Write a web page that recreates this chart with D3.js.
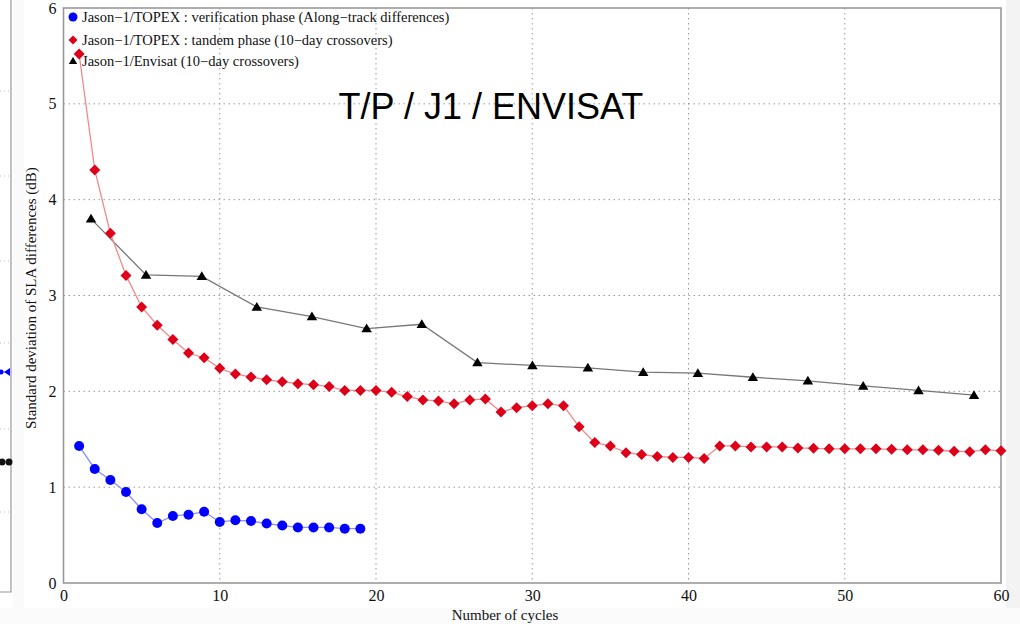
<!DOCTYPE html>
<html>
<head>
<meta charset="utf-8">
<script src="https://cdn.jsdelivr.net/npm/d3@7"></script>
<style>
  body { margin: 0; background: #fff; }
  svg { display: block; }
</style>
</head>
<body>
<div id="chart"></div>
<script>
// data
var verifCycles = [1,2,3,4,5,6,7,8,9,10,11,12,13,14,15,16,17,18,19];
var verifValues = [1.43,1.19,1.075,0.95,0.77,0.626,0.70,0.713,0.744,0.637,0.654,0.647,0.62,0.60,0.58,0.58,0.58,0.567,0.567];

var tandemCycles = [1,2,3,4,5,6,7,8,9,10,11,12,13,14,15,16,17,18,19,20,
  21,22,23,24,25,26,27,28,29,30,31,32,33,34,35,36,37,38,39,40,
  41,42,43,44,45,46,47,48,49,50,51,52,53,54,55,56,57,58,59,60];
var tandemValues = [5.52,4.31,3.65,3.21,2.88,2.69,2.54,2.40,2.35,2.24,2.18,2.15,2.12,2.10,2.08,2.07,2.05,2.01,2.01,2.01,
  1.99,1.945,1.91,1.90,1.87,1.91,1.92,1.785,1.83,1.85,1.87,1.85,1.63,1.465,1.43,1.36,1.34,1.32,1.31,1.31,
  1.30,1.43,1.43,1.42,1.42,1.42,1.41,1.405,1.40,1.40,1.40,1.40,1.395,1.39,1.39,1.385,1.375,1.37,1.39,1.38];

var envisatCycles = [1.76,5.28,8.85,12.37,15.9,19.4,22.93,26.49,30.01,33.56,37.1,40.6,44.12,47.64,51.18,54.72,58.27];
var envisatValues = [3.80,3.215,3.20,2.88,2.78,2.655,2.70,2.30,2.27,2.245,2.20,2.19,2.147,2.11,2.056,2.01,1.96];

var xTicks = [0,10,20,30,40,50,60];
var yTicks = [0,1,2,3,4,5,6];
var legendLabels = [
  "Jason\u22121/TOPEX : verification phase (Along\u2212track differences)",
  "Jason\u22121/TOPEX : tandem phase (10\u2212day crossovers)",
  "Jason\u22121/Envisat (10\u2212day crossovers)"
];

var W = 1020, H = 624;
var serif = "'Liberation Serif', 'DejaVu Serif', serif";

var svg = d3.select("#chart").append("svg")
  .attr("width", W)
  .attr("height", H);

// scan-like edges
svg.append("rect").attr("x", 1006).attr("y", 0).attr("width", 14).attr("height", H).attr("fill", "#f3f3f3");
svg.append("rect").attr("x", 13).attr("y", 0).attr("width", 11).attr("height", H).attr("fill", "#fafafa");
svg.append("rect").attr("x", 0).attr("y", 608).attr("width", W).attr("height", 16).attr("fill", "#fbfbfb");

// fragment of the neighbouring panel on the left
var left = svg.append("g");
left.append("path")
  .attr("d", "M11,0 V592 H0")
  .attr("fill", "none").attr("stroke", "#999").attr("stroke-width", 1.2);
[91,176,261,343,429,512].forEach(function(gy) {
  left.append("line").attr("x1", 0).attr("x2", 10).attr("y1", gy).attr("y2", gy)
    .attr("stroke", "#bbb").attr("stroke-dasharray", "1,3");
});
left.append("line").attr("x1", 0).attr("x2", 8).attr("y1", 372).attr("y2", 372).attr("stroke", "#8888ff");
left.append("path").attr("d", "M4,372 L10,368 L10,376 Z").attr("fill", "#0000ff");
left.append("circle").attr("cx", 1).attr("cy", 372).attr("r", 2.5).attr("fill", "#0000ff");
left.append("circle").attr("cx", 2).attr("cy", 462).attr("r", 3.5).attr("fill", "#111");
left.append("circle").attr("cx", 9).attr("cy", 462).attr("r", 3.5).attr("fill", "#111");

var x = d3.scaleLinear().domain([0, 60]).range([63.5, 1001]);
var y = d3.scaleLinear().domain([0, 6]).range([583, 8]);

// grid
var grid = svg.append("g");
grid.selectAll(".gx").data(xTicks.slice(1, -1)).enter().append("line")
  .attr("x1", function(d) { return x(d); }).attr("x2", function(d) { return x(d); })
  .attr("y1", y(6)).attr("y2", y(0))
  .attr("stroke", "#999").attr("stroke-dasharray", "1.5,3.5");
grid.selectAll(".gy").data(yTicks.slice(1, -1)).enter().append("line")
  .attr("x1", x(0)).attr("x2", x(60))
  .attr("y1", function(d) { return y(d); }).attr("y2", function(d) { return y(d); })
  .attr("stroke", "#999").attr("stroke-dasharray", "1.5,3.5");

// frame
svg.append("rect")
  .attr("x", x(0)).attr("y", y(6))
  .attr("width", x(60) - x(0)).attr("height", y(0) - y(6))
  .attr("fill", "none").attr("stroke", "#999").attr("stroke-width", 1.6);

// axes (labels only, the frame draws the lines)
var fmt = d3.format("d");
var xAxis = svg.append("g")
  .attr("transform", "translate(0," + y(0) + ")")
  .call(d3.axisBottom(x).tickValues(xTicks).tickFormat(fmt).tickSize(0).tickPadding(4));
var yAxis = svg.append("g")
  .attr("transform", "translate(" + x(0) + ",0)")
  .call(d3.axisLeft(y).tickValues(yTicks).tickFormat(fmt).tickSize(0).tickPadding(7));
[xAxis, yAxis].forEach(function(a) {
  a.select(".domain").remove();
  a.attr("font-family", null).attr("font-size", null);
  a.selectAll("text")
    .style("font-family", serif).style("font-size", "16px")
    .attr("fill", "#111");
});
xAxis.selectAll("text").attr("dy", "0.85em");

svg.append("text")
  .attr("x", 505).attr("y", 620)
  .attr("text-anchor", "middle")
  .style("font-family", serif).style("font-size", "15px").attr("fill", "#111")
  .text("Number of cycles");
svg.append("text")
  .attr("transform", "translate(36,298) rotate(-90)")
  .attr("text-anchor", "middle")
  .style("font-family", serif).style("font-size", "15px").attr("fill", "#111")
  .text("Standard deviation of SLA differences (dB)");

function zip(xs, ys) {
  return xs.map(function(d, i) { return {c: d, v: ys[i]}; });
}
var line = d3.line().x(function(d) { return x(d.c); }).y(function(d) { return y(d.v); });

var verif = zip(verifCycles, verifValues);
var tandem = zip(tandemCycles, tandemValues);
var envisat = zip(envisatCycles, envisatValues);

function diamond(s) { return "M0," + (-s) + "L" + s + ",0L0," + s + "L" + (-s) + ",0Z"; }
function triangle(s) { return "M0," + (-s) + "L" + (s * 1.05) + "," + (s * 0.75) + "L" + (-s * 1.05) + "," + (s * 0.75) + "Z"; }

// black / Envisat
svg.append("path").datum(envisat).attr("d", line)
  .attr("fill", "none").attr("stroke", "#777").attr("stroke-width", 1.3);
svg.selectAll(".tri").data(envisat).enter().append("path")
  .attr("d", triangle(5))
  .attr("transform", function(d) { return "translate(" + x(d.c) + "," + y(d.v) + ")"; })
  .attr("fill", "#000");

// red / tandem
svg.append("path").datum(tandem).attr("d", line)
  .attr("fill", "none").attr("stroke", "#f08a8a").attr("stroke-width", 1.3);
svg.selectAll(".dia").data(tandem).enter().append("path")
  .attr("d", diamond(5.5))
  .attr("transform", function(d) { return "translate(" + x(d.c) + "," + y(d.v) + ")"; })
  .attr("fill", "#dd0018");

// blue / verification
svg.append("path").datum(verif).attr("d", line)
  .attr("fill", "none").attr("stroke", "#8c8cff").attr("stroke-width", 1.3);
svg.selectAll(".dot").data(verif).enter().append("circle")
  .attr("cx", function(d) { return x(d.c); })
  .attr("cy", function(d) { return y(d.v); })
  .attr("r", 5)
  .attr("fill", "#0000ff");

// legend
var legend = svg.append("g");
var ly = [17, 40, 61];
legend.append("circle").attr("cx", 73).attr("cy", ly[0]).attr("r", 4.5).attr("fill", "#0000ff");
legend.append("path").attr("d", diamond(4.5)).attr("transform", "translate(73," + ly[1] + ")").attr("fill", "#dd0018");
legend.append("path").attr("d", triangle(4)).attr("transform", "translate(73," + ly[2] + ")").attr("fill", "#000");
legend.selectAll(".lt").data(legendLabels).enter().append("text")
  .attr("x", 82)
  .attr("y", function(d, i) { return ly[i] + 5; })
  .style("font-family", serif).style("font-size", "14.5px").attr("fill", "#111")
  .text(function(d) { return d; });

// annotation
svg.append("text")
  .attr("x", 491).attr("y", 119)
  .attr("text-anchor", "middle")
  .style("font-family", "'Liberation Sans', Arial, sans-serif")
  .style("font-size", "36px").attr("fill", "#000")
  .text("T/P / J1 / ENVISAT");
</script>
</body>
</html>
